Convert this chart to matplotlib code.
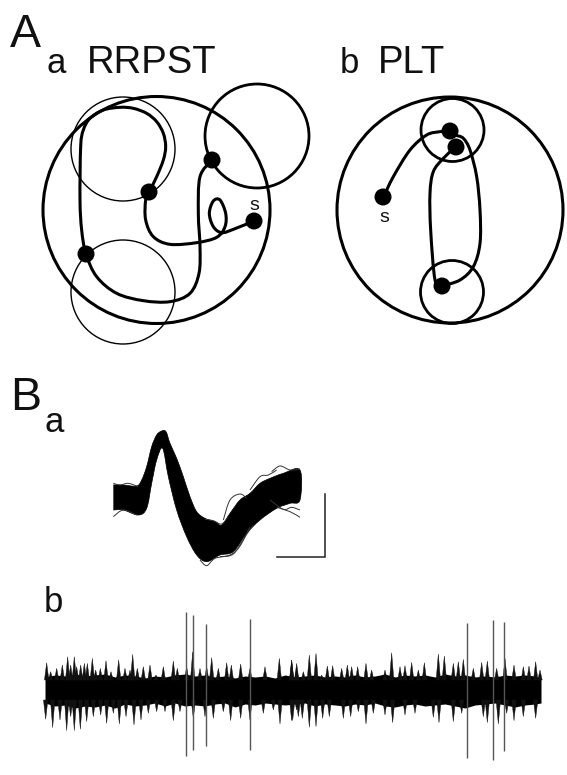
import matplotlib
matplotlib.use("Agg")
import matplotlib.pyplot as plt
from matplotlib.patches import Circle, PathPatch
from matplotlib.path import Path

plt.rcParams['font.family'] = ['Liberation Sans', 'DejaVu Sans']

# --- Panel A: arenas, read in reference pixels (centre x, centre y, radius)
arena_a = (156.5, 210, 113.5)
arena_b = (450, 210, 113)
thin_zones_a = [(123, 149, 52), (123, 292, 52)]
thick_zones_a = [(257, 136, 52)]
thick_zones_b = [(452.5, 130, 31.5), (452, 292, 31.5)]
dots_a = [(212, 160), (149, 192), (86, 254), (254, 221)]
dots_b = [(450, 131), (456, 147), (383, 197), (442, 286)]

path_a_x = [762, 700, 665, 640, 628, 640, 660, 677, 675, 650, 590, 510, 460, 437, 437, 448]
path_a_y = [663, 688, 698, 680, 640, 603, 600, 640, 680, 712, 728, 733, 710, 660, 600, 575]
path_a2_x = [448, 470, 490, 497, 490, 470, 440, 400, 360, 310, 270, 250, 242, 240, 245, 258, 290, 350, 430, 510, 570, 597, 600, 595, 600, 637]
path_a2_y = [575, 530, 480, 440, 400, 365, 340, 325, 322, 330, 355, 390, 440, 600, 690, 762, 830, 880, 902, 905, 880, 820, 740, 640, 530, 480]
path_b_x = [190, 220, 270, 320, 360, 390]
path_b_y = [502, 440, 360, 315, 305, 302]
path_b2_x = [407, 370, 340, 330, 332, 345, 365]
path_b2_y = [350, 385, 425, 490, 600, 750, 768]
path_b3_x = [365, 420, 460, 480, 480, 470, 450, 430, 407, 390]
path_b3_y = [768, 750, 710, 640, 540, 440, 360, 325, 315, 302]

wave_up_x = [70, 100, 140, 155, 170, 185, 200, 215, 228, 240, 260, 280, 300, 320, 345, 375, 395, 420, 450, 480, 510, 540, 580, 630]
wave_up_y = [195, 195, 198, 180, 140, 80, 45, 33, 35, 70, 115, 170, 230, 275, 295, 305, 315, 280, 240, 220, 190, 175, 160, 150]
wave_lo_x = [630, 600, 560, 510, 470, 430, 390, 350, 320, 290, 260, 235, 218, 200, 185, 170, 145, 100, 70]
wave_lo_y = [240, 250, 265, 300, 340, 395, 405, 425, 405, 350, 270, 170, 85, 120, 190, 265, 285, 270, 270]
outliers = [
    ([400, 420, 450, 470], [300, 240, 222, 235]),
    ([480, 510, 535, 560], [210, 170, 165, 150]),
    ([545, 570, 600, 630], [155, 138, 150, 147]),
    ([560, 600, 630], [262, 275, 292]),
    ([330, 350, 375, 420, 450, 480], [420, 437, 415, 405, 378, 320]),
    ([70, 100, 140], [290, 270, 285]),
    ([70, 90, 115, 145], [190, 195, 190, 200]),
    ([540, 580, 605, 630], [240, 268, 262, 270]),
    ([390, 430, 465, 490], [410, 402, 350, 315]),
    ([345, 370, 395, 415], [298, 302, 312, 290]),
]
scale_x = [277, 325, 325]
scale_y = [557, 557, 494]

left_top_x = [50, 62, 80, 97, 113, 122, 133, 140, 152, 163, 172, 187, 197, 211, 228, 243, 266, 285, 300, 308, 322, 340, 360, 378, 400, 430, 442, 470, 488, 510, 530, 545, 565, 590, 604, 632, 660, 705, 748, 785, 800]
left_top_y = [188, 215, 205, 195, 170, 195, 170, 200, 195, 190, 190, 175, 210, 205, 182, 215, 180, 205, 210, 163, 205, 200, 195, 225, 200, 183, 205, 200, 155, 205, 200, 173, 205, 188, 195, 192, 205, 200, 175, 180, 190]
left_bot_x = [47, 68, 90, 110, 122, 133, 151, 170, 190, 212, 230, 250, 268, 288, 312, 333, 355, 380, 405, 430, 450, 490, 525, 550, 580, 602, 632, 660, 700, 730, 750, 785, 805]
left_bot_y = [358, 383, 360, 392, 350, 392, 388, 365, 350, 345, 370, 340, 372, 350, 375, 360, 340, 335, 335, 362, 335, 355, 350, 355, 335, 362, 355, 360, 340, 330, 372, 362, 350]
right_top_x = [5, 20, 40, 58, 78, 95, 112, 128, 155, 172, 185, 203, 228, 245, 285, 305, 330, 345, 365, 385, 403, 445, 463, 490, 505, 520, 550, 575, 592, 620, 645, 672, 700, 717, 737, 750]
right_top_y = [180, 205, 215, 165, 160, 225, 198, 197, 205, 195, 200, 200, 190, 210, 210, 158, 200, 197, 187, 210, 188, 162, 168, 190, 185, 178, 205, 187, 183, 205, 175, 195, 200, 198, 185, 210]
right_bot_x = [8, 20, 37, 58, 78, 98, 118, 160, 182, 205, 228, 250, 285, 308, 345, 375, 430, 447, 490, 515, 580, 592, 625, 650, 672, 700, 737]
right_bot_y = [362, 330, 355, 382, 380, 355, 350, 355, 350, 335, 372, 340, 345, 368, 345, 340, 352, 368, 365, 340, 350, 368, 372, 340, 362, 350, 355]
edge_x = [45, 55, 65, 75, 85, 95, 105, 115, 125, 135, 145, 155, 165, 175, 185, 195, 205, 215, 225, 235, 245, 255, 265, 275, 285, 295, 305, 315, 325, 335, 345, 355, 365, 375, 385, 395, 405, 415, 425, 435, 445, 455, 465, 475, 485, 495, 505, 515, 525, 535, 541]
core_top = [677, 675, 676, 674, 676, 675, 674, 677, 675, 676, 678, 676, 677, 675, 674, 676, 675, 677, 676, 678, 676, 677, 676, 678, 675, 677, 676, 675, 677, 676, 677, 675, 677, 676, 674, 677, 675, 676, 675, 677, 674, 676, 675, 677, 676, 677, 675, 676, 675, 676, 678]
core_bottom = [703, 706, 705, 708, 706, 707, 705, 708, 704, 706, 705, 703, 706, 703, 706, 705, 706, 704, 703, 707, 704, 705, 703, 704, 705, 704, 703, 706, 704, 705, 706, 704, 705, 703, 706, 707, 705, 704, 706, 705, 704, 706, 708, 705, 704, 703, 705, 707, 705, 704, 703]
spike_x = [185.7, 192.7, 206.3, 250.3, 467.3, 493, 504]
spike_top = [612, 615, 624, 619, 623, 620, 622]
spike_bottom = [756, 750, 746, 750, 758, 760, 751]

titles = [(10, 47, 'A', 33.5), (10, 410, 'B', 33.5),
          (46, 73, 'a', 25), (87, 73, 'RRPST', 27.5),
          (340, 73, 'b', 25), (378, 73, 'PLT', 27.5),
          (45, 432, 'a', 25), (44, 612, 'b', 25)]
s_labels = [(254, 210, 's'), (384, 222, 's')]


def zoom_xy(xs, ys, ox, oy):
    return [ox + x / 3 for x in xs], [oy + y / 3 for y in ys]


def smooth_path(xs, ys):
    pts = list(zip(xs, ys))
    verts, codes = [pts[0]], [Path.MOVETO]
    for i in range(len(pts) - 1):
        p0 = pts[max(i - 1, 0)]
        p1 = pts[i]
        p2 = pts[i + 1]
        p3 = pts[min(i + 2, len(pts) - 1)]
        c1 = (p1[0] + (p2[0] - p0[0]) / 6, p1[1] + (p2[1] - p0[1]) / 6)
        c2 = (p2[0] - (p3[0] - p1[0]) / 6, p2[1] - (p3[1] - p1[1]) / 6)
        verts += [c1, c2, p2]
        codes += [Path.CURVE4] * 3
    return Path(verts, codes)


fig = plt.figure(figsize=(5.67, 7.75), dpi=100, facecolor='white')
ax = fig.add_axes([0, 0, 1, 1])
ax.set_xlim(0, 567)
ax.set_ylim(775, 0)
ax.axis('off')

for c, lw in [(arena_a, 2.2), (arena_b, 2.2)] + [(z, 1.0) for z in thin_zones_a] + \
        [(z, 2.0) for z in thick_zones_a + thick_zones_b]:
    ax.add_patch(Circle(c[:2], c[2], fill=False, ec='black', lw=lw))

for xs, ys, ox, oy in [(path_a_x, path_a_y, 0, 0), (path_a2_x, path_a2_y, 0, 0),
                       (path_b_x, path_b_y, 320, 30), (path_b2_x, path_b2_y, 320, 30),
                       (path_b3_x, path_b3_y, 320, 30)]:
    px, py = zoom_xy(xs, ys, ox, oy)
    ax.add_patch(PathPatch(smooth_path(px, py), fill=False, ec='black', lw=2.2, capstyle='round'))

for d in dots_a + dots_b:
    ax.add_patch(Circle(d, 8.5, fc='black', ec='none', zorder=4))

# waveforms
ux, uy = zoom_xy(wave_up_x + wave_lo_x, wave_up_y + wave_lo_y, 90, 420)
ax.add_patch(PathPatch(smooth_path(ux, uy), fc='black', ec='black', lw=0.5))
for xs, ys in outliers:
    px, py = zoom_xy(xs, ys, 90, 420)
    ax.add_patch(PathPatch(smooth_path(px, py), fill=False, ec='#333333', lw=0.7))
ax.plot(scale_x, scale_y, color='#222222', lw=1.1, solid_joinstyle='miter')

# trace: core band, tufts (narrow triangles on the band), big spikes
ax.fill_between(edge_x, core_top, core_bottom, color='black', lw=0)
for top_x, top_y, bot_x, bot_y, ox in [(left_top_x, left_top_y, left_bot_x, left_bot_y, 30),
                                       (right_top_x, right_top_y, right_bot_x, right_bot_y, 290)]:
    tx, ty = zoom_xy(top_x, top_y, ox, 600)
    bx, by = zoom_xy(bot_x, bot_y, ox, 600)
    for x, y in zip(tx, ty):
        ax.fill([x - 2.2, x, x + 2.2], [680, y, 680], color='#111111', lw=0.3)
    for x, y in zip(bx, by):
        ax.fill([x - 2.2, x, x + 2.2], [700, y, 700], color='#111111', lw=0.3)
ax.vlines(spike_x, spike_top, spike_bottom, color='#555555', lw=1.0)

for x, y, t, fs in titles:
    ax.text(x, y, t, fontsize=fs, color='#111111', ha='left', va='baseline')
for x, y, t in s_labels:
    ax.text(x, y, t, fontsize=14, color='#111111', ha='center', va='baseline')

fig.savefig('out.png', dpi=100, facecolor='white')
